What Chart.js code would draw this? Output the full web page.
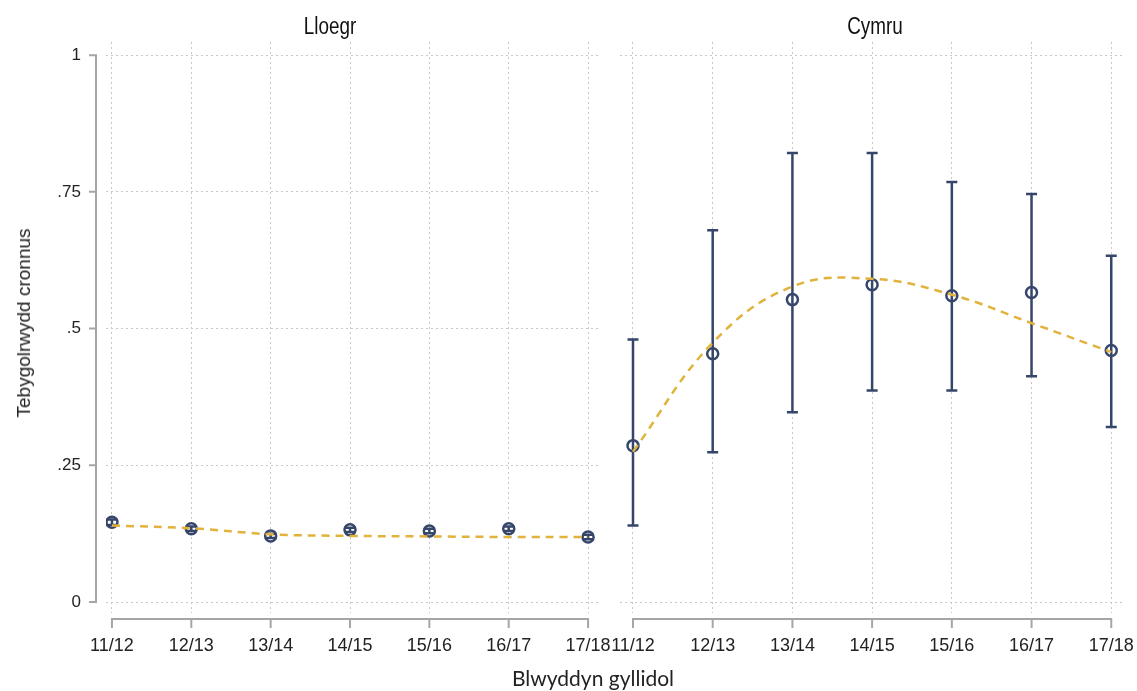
<!DOCTYPE html>
<html>
<head>
<meta charset="utf-8">
<script src="https://cdn.jsdelivr.net/npm/chart.js@4"></script>
<style>
  body { margin: 0; background: #fff; }
  #wrap { position: relative; width: 1137px; height: 691px; overflow: hidden; }
  #leftBox { position: absolute; left: 0; top: 0; width: 640px; height: 691px; }
  #rightBox { position: absolute; left: 580px; top: 0; width: 557px; height: 691px; }
  .ptitle { position: absolute; top: 13px; font-family: "Liberation Sans", Arial, sans-serif; font-size: 23px; color: #111; transform: translateX(-50%) scaleX(0.82); }
  #ytitle { position: absolute; left: 24px; top: 323px; transform: translate(-50%, -50%) rotate(-90deg); white-space: nowrap; font-family: "Liberation Sans", Arial, sans-serif; font-size: 19px; color: #222; }
  #xtitle { position: absolute; left: 593px; top: 677px; transform: translate(-50%, -50%); white-space: nowrap; font-family: Lato, "Open Sans", sans-serif; font-size: 21px; color: #222; }
</style>
</head>
<body>
<div id="wrap">
  <div id="leftBox"><canvas id="leftChart" width="640" height="691"></canvas></div>
  <div id="rightBox"><canvas id="rightChart" width="557" height="691"></canvas></div>
  <div class="ptitle" style="left:330px">Lloegr</div>
  <div class="ptitle" style="left:875px">Cymru</div>
  <div id="ytitle">Tebygolrwydd cronnus</div>
  <div id="xtitle">Blwyddyn gyllidol</div>
</div>
<script>
// blynyddoedd ariannol
const years = ['11/12', '12/13', '13/14', '14/15', '15/16', '16/17', '17/18'];

// Lloegr
const englandEst  = [0.146, 0.134, 0.121, 0.132, 0.130, 0.134, 0.119];
const englandLow  = [0.141, 0.130, 0.117, 0.128, 0.126, 0.130, 0.115];
const englandHigh = [0.151, 0.138, 0.125, 0.136, 0.134, 0.138, 0.123];
const englandFit  = [0.140, 0.135, 0.124, 0.121, 0.120, 0.119, 0.119];

// Cymru
const walesEst  = [0.286, 0.454, 0.553, 0.580, 0.560, 0.566, 0.460];
const walesLow  = [0.140, 0.274, 0.347, 0.387, 0.387, 0.413, 0.320];
const walesHigh = [0.480, 0.680, 0.821, 0.821, 0.768, 0.746, 0.633];
const walesFit  = [0.275, 0.474, 0.577, 0.591, 0.562, 0.510, 0.457];

const leftTicks = [0, 0.25, 0.5, 0.75, 1];
const leftTickLabels = ['0', '.25', '.5', '.75', '1'];
const rightGridTicks = [0, 1 / 3, 2 / 3, 1];

const navy = '#36456a';
const gold = '#e2b33c';
const axisGrey = '#a6a6a6';

// bariau gwall + echelinau arddull Stata
const stataPlugin = {
  id: 'stata',
  beforeDatasetsDraw(chart, args, opts) {
    const { ctx, scales: { x, y } } = chart;
    ctx.save();
    ctx.strokeStyle = navy;
    ctx.lineWidth = 2.5;
    opts.low.forEach((lo, i) => {
      const px = x.getPixelForValue(i);
      const y1 = y.getPixelForValue(lo);
      const y2 = y.getPixelForValue(opts.high[i]);
      ctx.beginPath();
      ctx.moveTo(px, y1); ctx.lineTo(px, y2);
      ctx.moveTo(px - 5.5, y1); ctx.lineTo(px + 5.5, y1);
      ctx.moveTo(px - 5.5, y2); ctx.lineTo(px + 5.5, y2);
      ctx.stroke();
    });
    ctx.restore();
  },
  afterDraw(chart, args, opts) {
    const { ctx, scales: { x, y }, chartArea } = chart;
    ctx.save();
    ctx.strokeStyle = axisGrey;
    ctx.lineWidth = 2;
    // echelin x
    const ay = chartArea.bottom + 6;
    const x0 = x.getPixelForValue(0), x6 = x.getPixelForValue(years.length - 1);
    ctx.beginPath();
    ctx.moveTo(x0, ay); ctx.lineTo(x6, ay);
    years.forEach((_, i) => {
      const px = x.getPixelForValue(i);
      ctx.moveTo(px, ay - 1); ctx.lineTo(px, ay + 9);
    });
    ctx.stroke();
    if (opts.yAxis) {
      const ax = chartArea.left - 10;
      ctx.beginPath();
      ctx.moveTo(ax, y.getPixelForValue(0)); ctx.lineTo(ax, y.getPixelForValue(1));
      leftTicks.forEach(v => {
        const py = y.getPixelForValue(v);
        ctx.moveTo(ax + 1, py); ctx.lineTo(ax - 7, py);
      });
      ctx.stroke();
    }
    ctx.restore();
  }
};

function makePanel(id, est, low, high, fit, cfg) {
  return new Chart(document.getElementById(id), {
    type: 'line',
    data: {
      datasets: [
        {
          data: fit.map((v, i) => ({ x: i, y: v })),
          borderColor: gold,
          borderWidth: 2.5,
          borderDash: [8, 6],
          pointRadius: 0,
          tension: 0.4,
          fill: false
        },
        {
          data: est.map((v, i) => ({ x: i, y: v })),
          showLine: false,
          pointStyle: 'circle',
          pointRadius: 5.5,
          pointBorderWidth: 2.5,
          pointBorderColor: navy,
          pointBackgroundColor: 'rgba(255,255,255,0)'
        }
      ]
    },
    options: {
      responsive: false,
      animation: false,
      events: [],
      layout: { padding: { top: 42, right: cfg.padRight, left: 0, bottom: 0 } },
      plugins: {
        legend: { display: false },
        tooltip: { enabled: false },
        stata: { low: low, high: high, yAxis: cfg.yAxis }
      },
      scales: {
        x: {
          type: 'linear',
          min: cfg.xMin,
          max: cfg.xMax,
          afterBuildTicks: s => { s.ticks = years.map((_, i) => ({ value: i })); },
          afterFit: s => { s.height = 691 - 613; },
          // tick mark anweledig yn lle padding, fel nad yw'r label yn gwthio'r ardal
          grid: { color: '#c8c8c8', lineWidth: 1, drawTicks: true, tickLength: 22, tickColor: 'rgba(0,0,0,0)' },
          border: { display: false, dash: [2, 3] },
          ticks: {
            callback: v => years[v],
            padding: 0,
            maxRotation: 0,
            autoSkip: false,
            color: '#222',
            font: { family: '"Liberation Sans", Arial, sans-serif', size: 18 }
          }
        },
        y: {
          min: -0.02,
          max: 1.024,
          afterBuildTicks: s => { s.ticks = cfg.yTicks.map(v => ({ value: v })); },
          afterFit: s => { s.width = cfg.yWidth; },
          grid: { color: '#c8c8c8', lineWidth: 1, drawTicks: false },
          border: { display: false, dash: [2, 3] },
          ticks: {
            display: cfg.yAxis,
            callback: v => leftTickLabels[leftTicks.indexOf(v)],
            padding: 25,
            color: '#222',
            font: { family: '"Liberation Sans", Arial, sans-serif', size: 17 }
          }
        }
      }
    },
    plugins: [stataPlugin]
  });
}

makePanel('leftChart', englandEst, englandLow, englandHigh, englandFit,
  { xMin: -0.075, xMax: 6.125, yWidth: 106, padRight: 42, yAxis: true, yTicks: leftTicks });
makePanel('rightChart', walesEst, walesLow, walesHigh, walesFit,
  { xMin: -0.163, xMax: 6.16, yWidth: 40, padRight: 13, yAxis: false, yTicks: rightGridTicks });
</script>
</body>
</html>
